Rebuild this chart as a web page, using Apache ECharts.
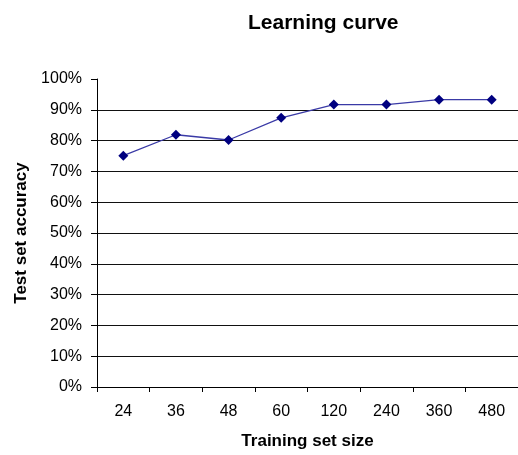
<!DOCTYPE html>
<html>
<head>
<meta charset="utf-8">
<script src="https://cdn.jsdelivr.net/npm/echarts@6/dist/echarts.min.js"></script>
<style>
html,body{margin:0;padding:0;background:#fff;}
#c{width:518px;height:455px;}
</style>
</head>
<body>
<div id="c"></div>
<script>
var categories = ['24', '36', '48', '60', '120', '240', '360', '480'];
var accuracy = [75.1, 81.9, 80.2, 87.4, 91.7, 91.7, 93.3, 93.3];
var yTicks = [0, 10, 20, 30, 40, 50, 60, 70, 80, 90, 100];

var chart = echarts.init(document.getElementById('c'), null, {renderer: 'canvas'});
var font = 'Arial, "Liberation Sans", sans-serif';
chart.setOption({
  animation: false,
  backgroundColor: '#fff',
  title: {
    text: 'Learning curve',
    left: 243, top: 8,
    textStyle: {fontFamily: font, fontSize: 21, fontWeight: 'bold', color: '#000'}
  },
  grid: {left: 97, top: 79, right: 0, bottom: 64, containLabel: false},
  xAxis: {
    type: 'category',
    data: categories,
    boundaryGap: true,
    name: 'Training set size',
    nameLocation: 'middle',
    nameGap: 46,
    nameTextStyle: {fontFamily: font, fontSize: 17, fontWeight: 'bold', color: '#000'},
    axisLine: {show: true, lineStyle: {color: '#000', width: 1}},
    axisTick: {show: true, length: 5, inside: false, lineStyle: {color: '#000'}},
    axisLabel: {fontFamily: font, fontSize: 16, color: '#000', margin: 17},
    splitLine: {show: false}
  },
  yAxis: {
    type: 'value',
    min: yTicks[0],
    max: yTicks[yTicks.length - 1],
    interval: yTicks[1] - yTicks[0],
    name: 'Test set accuracy',
    nameLocation: 'middle',
    nameGap: 66,
    nameTextStyle: {fontFamily: font, fontSize: 17, fontWeight: 'bold', color: '#000'},
    axisLine: {show: true, lineStyle: {color: '#000', width: 1}},
    axisTick: {show: true, length: 6, inside: false, lineStyle: {color: '#000'}},
    axisLabel: {fontFamily: font, fontSize: 16, color: '#000', margin: 15, formatter: '{value}%'},
    splitLine: {show: true, showMinLine: false, showMaxLine: false, lineStyle: {color: '#111', width: 1}}
  },
  series: [{
    type: 'line',
    data: accuracy,
    symbol: 'diamond',
    symbolSize: 10,
    lineStyle: {color: '#3a3aa6', width: 1.3},
    itemStyle: {color: '#000080'}
  }]
});
</script>
</body>
</html>
